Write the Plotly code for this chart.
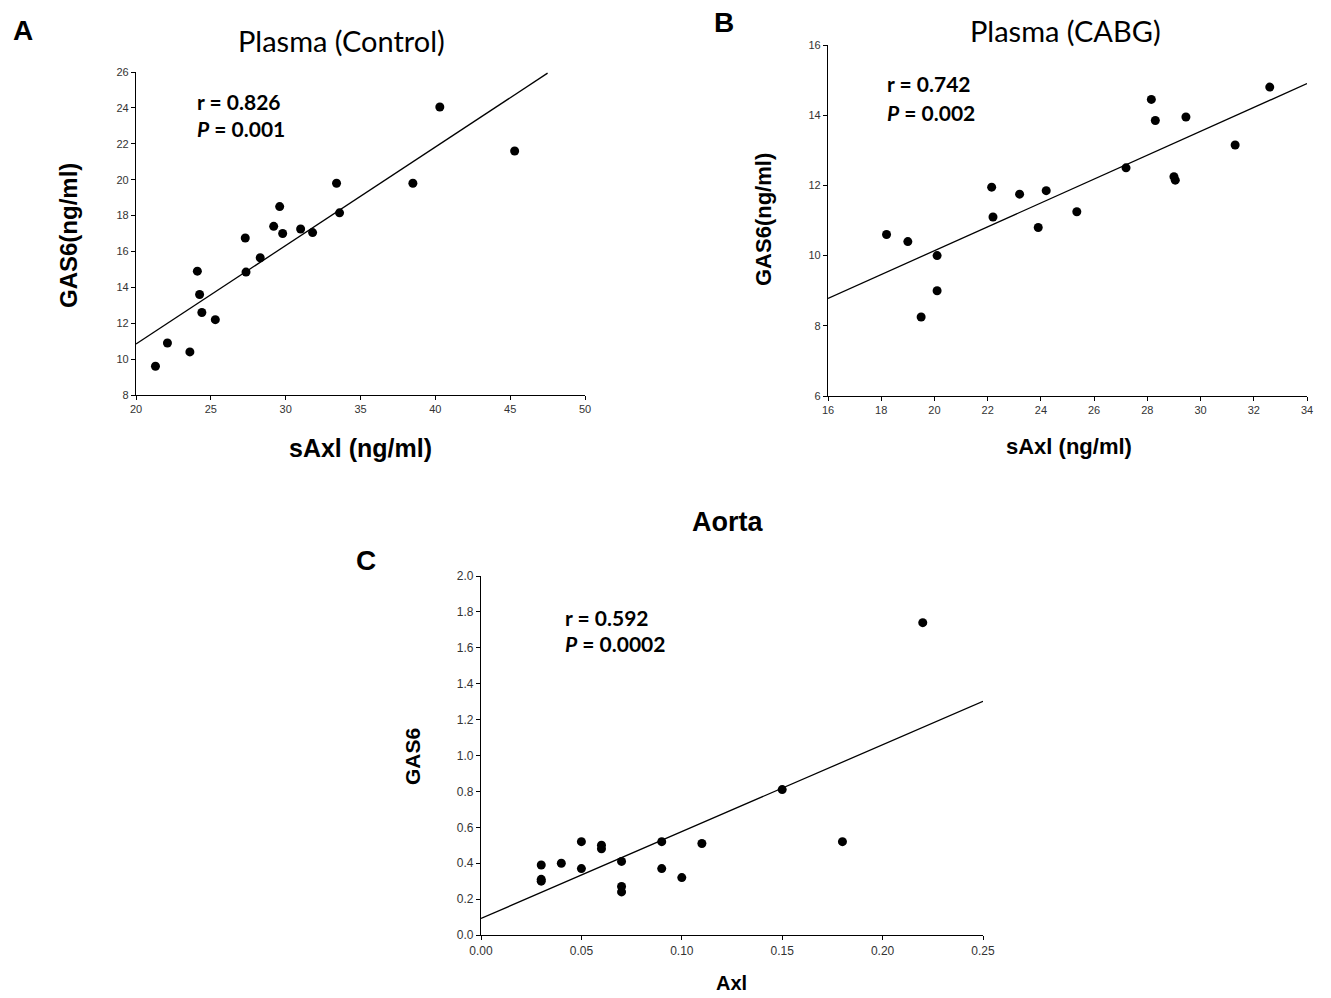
import plotly.graph_objects as go

# ---------------- data ----------------
# Panel A: Plasma (Control)
a_saxl = [21.3, 22.1, 23.6, 24.1, 24.25, 24.4, 25.3, 27.3, 27.35, 28.3, 29.2, 29.6, 29.8,
          31.0, 31.8, 33.4, 33.6, 38.5, 40.3, 45.3]
a_gas6 = [9.6, 10.9, 10.4, 14.9, 13.6, 12.6, 12.2, 16.75, 14.85, 15.65, 17.4, 18.5, 17.0,
          17.25, 17.05, 19.8, 18.15, 19.8, 24.05, 21.6]
a_fit = {"intercept": -0.14, "slope": 0.549, "x_start": 20.0, "x_end": 47.5}

# Panel B: Plasma (CABG)
b_saxl = [18.2, 19.0, 19.5, 20.1, 20.1, 22.15, 22.2, 23.2, 23.9, 24.2, 25.35, 27.2, 28.15,
          28.3, 29.0, 29.05, 29.45, 31.3, 32.6]
b_gas6 = [10.6, 10.4, 8.25, 10.0, 9.0, 11.95, 11.1, 11.75, 10.8, 11.85, 11.25, 12.5, 14.45,
          13.85, 12.25, 12.15, 13.95, 13.15, 14.8]
b_fit = {"intercept": 3.34, "slope": 0.340, "x_start": 16.0, "x_end": 34.0}

# Panel C: Aorta
c_axl = [0.03, 0.03, 0.03, 0.04, 0.05, 0.05, 0.06, 0.06, 0.07, 0.07, 0.07, 0.09, 0.09,
         0.10, 0.11, 0.15, 0.18, 0.22]
c_gas6 = [0.39, 0.31, 0.30, 0.40, 0.52, 0.37, 0.50, 0.48, 0.41, 0.27, 0.24, 0.52, 0.37,
          0.32, 0.51, 0.81, 0.52, 1.74]
c_fit = {"intercept": 0.092, "slope": 4.84, "x_start": 0.0, "x_end": 0.25}

stats = {
    "A": ("r = 0.826", "0.001"),
    "B": ("r = 0.742", "0.002"),
    "C": ("r = 0.592", "0.0002"),
}

# ---------------- figure ----------------
W, H = 1331, 998
fig = go.Figure()

def fit_line(fit):
    xs = [fit["x_start"], fit["x_end"]]
    ys = [fit["intercept"] + fit["slope"] * x for x in xs]
    return xs, ys

panels = [
    ("x", "y", a_saxl, a_gas6, a_fit),
    ("x2", "y2", b_saxl, b_gas6, b_fit),
    ("x3", "y3", c_axl, c_gas6, c_fit),
]
for xa, ya, xs, ys, fit in panels:
    lx, ly = fit_line(fit)
    fig.add_trace(go.Scatter(x=lx, y=ly, mode="lines", xaxis=xa, yaxis=ya,
                             line=dict(color="black", width=1.3), showlegend=False,
                             hoverinfo="skip"))
    fig.add_trace(go.Scatter(x=xs, y=ys, mode="markers", xaxis=xa, yaxis=ya,
                             marker=dict(color="black", size=9), showlegend=False,
                             cliponaxis=False))

def px_x(p):
    return p / W

def px_y(p):
    return 1 - p / H

def axis_style(size=11):
    return dict(showline=True, linecolor="black", linewidth=1.2, ticks="outside",
                ticklen=4, tickwidth=1, tickcolor="black", showgrid=False,
                zeroline=False, automargin=False,
                tickfont=dict(family="Liberation Sans", size=size, color="#333"))

fig.update_layout(
    width=W, height=H,
    margin=dict(l=0, r=0, t=0, b=0, pad=0),
    paper_bgcolor="white", plot_bgcolor="white",
    xaxis=dict(domain=[px_x(136), px_x(585)], range=[20, 50], dtick=5, anchor="y", **axis_style()),
    yaxis=dict(domain=[px_y(395), px_y(72)], range=[8, 26], dtick=2, anchor="x", **axis_style()),
    xaxis2=dict(domain=[px_x(828), px_x(1307)], range=[16, 34], dtick=2, anchor="y2", **axis_style()),
    yaxis2=dict(domain=[px_y(396), px_y(45)], range=[6, 16], dtick=2, anchor="x2", **axis_style()),
    xaxis3=dict(domain=[px_x(481), px_x(983)], range=[0, 0.25], dtick=0.05, tickformat=".2f",
                anchor="y3", **axis_style(12)),
    yaxis3=dict(domain=[px_y(935), px_y(576)], range=[0, 2.0], dtick=0.2, tickformat=".1f",
                anchor="x3", **axis_style(12)),
)

ann = []

def text(x, y, s, size, family="Liberation Sans", weight="bold", angle=0, xanchor="center"):
    ann.append(dict(x=px_x(x), y=px_y(y), xref="paper", yref="paper", text=s, showarrow=False,
                    xanchor=xanchor, yanchor="middle", textangle=angle,
                    font=dict(family=family, size=size, color="black", weight=weight)))

# panel letters
text(23, 30, "A", 28)
text(724, 22, "B", 28)
text(366, 560, "C", 28)

# titles
text(341, 40, "Plasma (Control)", 29, family="Lato", weight="normal")
text(1065, 31, "Plasma (CABG)", 29, family="Lato", weight="normal")
text(727, 522, "Aorta", 27)

# axis titles
text(68, 236, "GAS6(ng/ml)", 24, angle=-90)
text(360, 448, "sAxl (ng/ml)", 25)
text(763, 220, "GAS6(ng/ml)", 22, angle=-90)
text(1069, 447, "sAxl (ng/ml)", 22)
text(412, 757, "GAS6", 21, angle=-90)
text(731, 983, "Axl", 20)

# stats
for (lx, ry, py), key in [((195, 101, 129), "A"), ((885, 84, 112), "B"), ((563, 617, 643), "C")]:
    r_txt, p_val = stats[key]
    text(lx, ry, r_txt, 21, family="Lato", xanchor="left")
    text(lx, py, "<i>P</i> = " + p_val, 21, family="Lato", xanchor="left")

fig.update_layout(annotations=ann)
fig.write_html(
    "out.html",
    config={"displayModeBar": False},
    post_script="document.body.style.margin='0';document.body.style.overflow='hidden';",
)
